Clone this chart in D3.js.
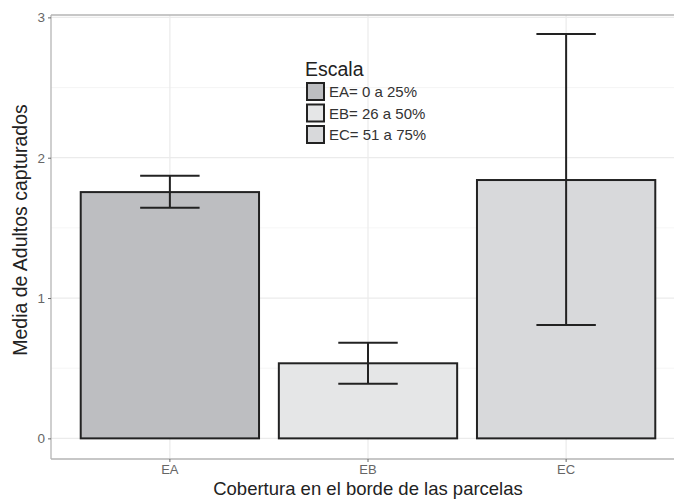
<!DOCTYPE html>
<html lang="es"><head>
<meta charset="utf-8"/>
<title>Media de Adultos capturados</title>
<script src="https://d3js.org/d3.v7.min.js"></script>
<style>
    html, body { margin: 0; padding: 0; background: #fff; overflow: hidden; font-family: 'Liberation Sans', Arial, sans-serif; }
    svg { display: block; overflow: hidden; }
</style>
</head>
<body>
<div id="chart"></div>
<script>
    // Data
    const categories = ["EA", "EB", "EC"];
    const means = [1.755, 0.535, 1.841];
    const errLow = [1.644, 0.389, 0.808];
    const errHigh = [1.872, 0.681, 2.882];
    const fills = ["#bdbec1", "#e5e6e7", "#d8d9db"];
    const legendLabels = ["EA= 0 a 25%", "EB= 26 a 50%", "EC= 51 a 75%"];
    const yTicks = [0, 1, 2, 3];
    const yMinor = [0.5, 1.5, 2.5];

    const W = 674, H = 499;
    // the panel runs past the right edge of the picture (cropped)
    const panel = { left: 51, top: 15, right: 685, bottom: 459 };

    const svg = d3.select("#chart").append("svg")
        .attr("width", W).attr("height", H);

    // ggplot style: bar width 0.9, 0.6 expansion on each side
    const x = d3.scaleBand()
        .domain(categories)
        .range([panel.left, panel.right])
        .paddingInner(0.1)
        .paddingOuter(0.15);

    const y = d3.scaleLinear()
        .domain([-0.147, 3.017])
        .range([panel.bottom, panel.top]);

    const centre = d => x(d) + x.bandwidth() / 2;
    const step = x.step();
    const rightEdge = Math.min(panel.right, W);

    // grid
    const grid = svg.append("g");
    grid.selectAll(".minor").data(yMinor).enter().append("line")
        .attr("x1", panel.left).attr("x2", rightEdge)
        .attr("y1", d => y(d)).attr("y2", d => y(d))
        .attr("stroke", "#f3f3f3").attr("stroke-width", 0.8);
    grid.selectAll(".major").data(yTicks).enter().append("line")
        .attr("x1", panel.left).attr("x2", rightEdge)
        .attr("y1", d => y(d)).attr("y2", d => y(d))
        .attr("stroke", "#ebebeb").attr("stroke-width", 1.2);
    grid.selectAll(".vert").data(categories).enter().append("line")
        .attr("x1", d => centre(d)).attr("x2", d => centre(d))
        .attr("y1", panel.top).attr("y2", panel.bottom)
        .attr("stroke", "#ebebeb").attr("stroke-width", 1.2);

    // bars
    svg.selectAll(".bar").data(categories).enter().append("rect")
        .attr("x", d => x(d))
        .attr("width", x.bandwidth())
        .attr("y", (d, i) => y(means[i]))
        .attr("height", (d, i) => y(0) - y(means[i]))
        .attr("fill", (d, i) => fills[i])
        .attr("stroke", "#222")
        .attr("stroke-width", 2);

    // error bars
    const capHalf = step * 0.15;
    const eb = svg.append("g").attr("stroke", "#222").attr("stroke-width", 2).attr("fill", "none");
    categories.forEach((c, i) => {
        const cx = centre(c);
        eb.append("line").attr("x1", cx).attr("x2", cx).attr("y1", y(errLow[i])).attr("y2", y(errHigh[i]));
        eb.append("line").attr("x1", cx - capHalf).attr("x2", cx + capHalf).attr("y1", y(errLow[i])).attr("y2", y(errLow[i]));
        eb.append("line").attr("x1", cx - capHalf).attr("x2", cx + capHalf).attr("y1", y(errHigh[i])).attr("y2", y(errHigh[i]));
    });

    // panel border (right side is cut off in the reference)
    const border = svg.append("g").attr("stroke", "#b5b5b5").attr("stroke-width", 1.3);
    border.append("line").attr("x1", panel.left).attr("x2", rightEdge).attr("y1", panel.top).attr("y2", panel.top);
    border.append("line").attr("x1", panel.left).attr("x2", rightEdge).attr("y1", panel.bottom).attr("y2", panel.bottom);
    border.append("line").attr("x1", panel.left).attr("x2", panel.left).attr("y1", panel.top).attr("y2", panel.bottom);

    // axes
    const yAxis = svg.append("g")
        .attr("transform", `translate(${panel.left},0)`)
        .call(d3.axisLeft(y).tickValues(yTicks).tickSize(3).tickPadding(3).tickFormat(d3.format("d")));
    yAxis.select(".domain").remove();
    yAxis.selectAll("line").attr("stroke", "#666");
    yAxis.selectAll("text").attr("fill", "#666").style("font-size", "13.5px")
        .style("font-family", "'Liberation Sans', Arial, sans-serif");

    const xAxis = svg.append("g")
        .attr("transform", `translate(0,${panel.bottom})`)
        .call(d3.axisBottom(x).tickSize(3).tickPadding(3));
    xAxis.select(".domain").remove();
    xAxis.selectAll("line").attr("stroke", "#666");
    xAxis.selectAll("text").attr("fill", "#666").style("font-size", "13px")
        .style("font-family", "'Liberation Sans', Arial, sans-serif");

    // axis titles
    svg.append("text")
        .attr("x", (panel.left + panel.right) / 2)
        .attr("y", 495)
        .attr("text-anchor", "middle")
        .attr("fill", "#222")
        .style("font-size", "18.5px")
        .text("Cobertura en el borde de las parcelas");

    svg.append("text")
        .attr("transform", `translate(27,${(panel.top + panel.bottom) / 2 - 7}) rotate(-90)`)
        .attr("text-anchor", "middle")
        .attr("fill", "#222")
        .style("font-size", "19.5px")
        .text("Media de Adultos capturados");

    // legend
    const legend = svg.append("g").attr("transform", "translate(306,60)");
    legend.append("text")
        .attr("x", -1).attr("y", 16)
        .attr("fill", "#222")
        .style("font-size", "19.5px")
        .text("Escala");
    const keys = legend.selectAll(".key").data(legendLabels).enter().append("g")
        .attr("transform", (d, i) => `translate(0,${23 + i * 21.5})`);
    keys.append("rect")
        .attr("x", 1).attr("y", 0).attr("width", 17).attr("height", 17)
        .attr("fill", (d, i) => fills[i])
        .attr("stroke", "#222").attr("stroke-width", 2);
    keys.append("text")
        .attr("x", 23).attr("y", 14)
        .attr("fill", "#333")
        .style("font-size", "15px")
        .text(d => d);
</script>
</body></html>
